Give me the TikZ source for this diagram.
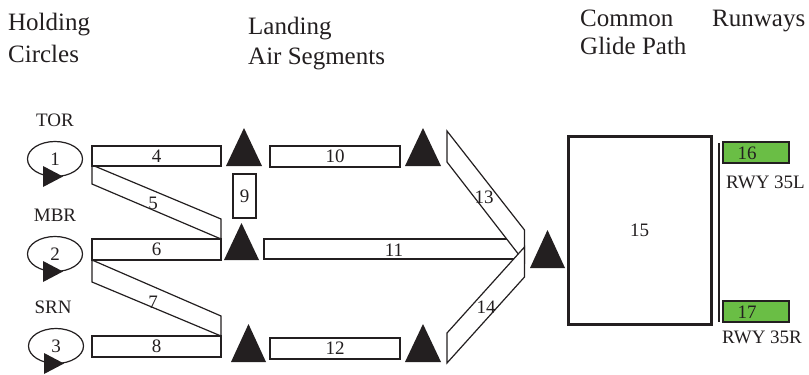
\documentclass[tikz,border=0pt]{standalone}
\usepackage{fontspec}
\setmainfont{Liberation Serif}
\usetikzlibrary{shapes.geometric}
\definecolor{ink}{HTML}{231F20}
\definecolor{rwygreen}{HTML}{6ABE45}
\tikzset{
  outline/.style={draw=ink, line width=1.2pt},
  hdr/.style={anchor=base west, inner sep=0pt, text=ink,
    font=\fontsize{25}{30}\selectfont},
  lbl/.style={inner sep=0pt, text=ink, font=\fontsize{19}{22}\selectfont},
  segbox/.style={draw=ink, line width=1.2pt, fill=white, inner sep=0pt,
    text=ink, font=\fontsize{19}{22}\selectfont},
  holdloop/.style={ellipse, draw=ink, line width=1.2pt, inner sep=0pt,
    minimum width=55pt, minimum height=35pt, text=ink,
    font=\fontsize{19}{22}\selectfont},
  fixmark/.style={fill=ink, draw=none},
  holdarrow/.pic={\fill[ink] (-12,7) -- (8,17.5) -- (-12,28) -- cycle;},
}
\begin{document}
\begin{tikzpicture}[x=1pt, y=-1pt]
\useasboundingbox (0,0) rectangle (809,375);

% column headings
\node[hdr] (hA) at (8,30) {Holding};
\node[hdr] (hB) at (8,62) {Circles};
\node[hdr] (hC) at (248,34) {Landing};
\node[hdr] (hD) at (248,64) {Air Segments};
\node[hdr] (hE) at (580,26) {Common};
\node[hdr] (hF) at (580,54) {Glide Path};
\node[hdr] (hG) at (712,26) {Runways};

% holding circles
\node[lbl] (tor) at (55,120) {TOR};
\node[lbl] (mbr) at (55,215) {MBR};
\node[lbl] (srn) at (53,307) {SRN};
\node[holdloop] (h1) at (55,159) {1};
\node[holdloop] (h2) at (55,254) {2};
\node[holdloop] (h3) at (56,346) {3};
\pic at (h1.center) {holdarrow};
\pic at (h2.center) {holdarrow};
\pic at (h3.center) {holdarrow};

% slanted links between holding exits
\draw[outline] (92,165) -- (221,219) -- (221,239) -- (92,184) -- cycle;
\node[lbl] (s5) at (153,203) {5};
\draw[outline] (92,260) -- (221,316) -- (221,336) -- (92,282) -- cycle;
\node[lbl] (s7) at (153,302) {7};

% straight air segments
\node[segbox, minimum width=129pt, minimum height=20pt] (s4) at (156.5,156) {4};
\node[segbox, minimum width=129pt, minimum height=21pt] (s6) at (156.5,249.5) {6};
\node[segbox, minimum width=129pt, minimum height=21pt] (s8) at (156.5,346.5) {8};
\node[segbox, minimum width=23pt, minimum height=44pt] (s9) at (244.5,196) {9};
\node[segbox, minimum width=130pt, minimum height=21pt] (s10) at (335,156.5) {10};
\node[segbox, minimum width=130pt, minimum height=21pt] (s12) at (335,348.5) {12};

% segment 11 runs under the merging legs
\draw[outline, fill=white] (264,239) -- (520,239) -- (520,259) -- (264,259) -- cycle;
\node[lbl] (s11) at (394,250) {11};

% merging legs towards the glide path
\draw[outline, fill=white] (447,131) -- (524.5,230) -- (524.5,262) -- (447,162) -- cycle;
\draw[outline, fill=white] (447,333) -- (524.5,247) -- (524.5,277) -- (447,363) -- cycle;
\node[lbl] (s13) at (484,197) {13};
\node[lbl] (s14) at (486,307) {14};

% fixes
\fill[fixmark] (226,166) -- (262,166) -- (244,128) -- cycle;
\fill[fixmark] (224,260) -- (259,260) -- (241.5,223) -- cycle;
\fill[fixmark] (231,362) -- (266,362) -- (248.5,324) -- cycle;
\fill[fixmark] (405,166) -- (441,166) -- (423,128) -- cycle;
\fill[fixmark] (405,362) -- (441,362) -- (423,324) -- cycle;
\fill[fixmark] (530,268) -- (565,268) -- (547.5,230) -- cycle;

% common glide path
\node[segbox, line width=3pt, minimum width=143pt, minimum height=188pt] (s15) at (639.5,230) {15};

% runways
\coordinate (rtop) at (719,143);
\coordinate (rbot) at (719,322);
\draw[outline, line width=1.6pt] (rtop) -- (rbot);
\node[segbox, fill=rwygreen, minimum width=66pt, minimum height=21pt] (r16) at (756,152.5) {};
\node[lbl] (l16) at (747,153) {16};
\node[segbox, fill=rwygreen, minimum width=66pt, minimum height=21pt] (r17) at (756,311.5) {};
\node[lbl] (l17) at (747,312) {17};
\node[lbl, anchor=west] (n16) at (726,182) {RWY 35L};
\node[lbl, anchor=west] (n17) at (722,337) {RWY 35R};
\end{tikzpicture}
\end{document}
